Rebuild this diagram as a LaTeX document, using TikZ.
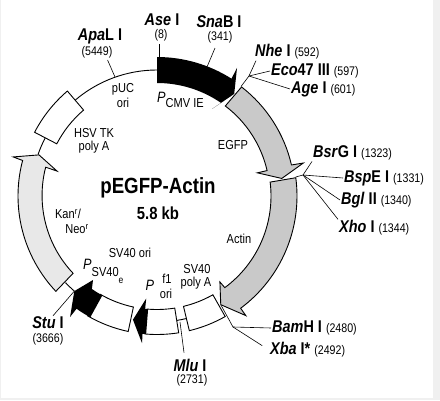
\documentclass[tikz,border=0pt]{standalone}
\usepackage{fontspec}
\setmainfont{Liberation Sans}[FakeStretch=0.85]
\newcommand{\sitepos}[1]{{\fontsize{12.5}{13}\selectfont\mdseries (#1)}}
\tikzset{
  ringline/.style={line width=0.9pt},
  ringblock/.style={ringline, draw=black, fill=white},
  tick/.style={line width=0.6pt},
  sitename/.style={font=\fontsize{17}{18}\selectfont\bfseries, inner sep=1pt},
  sitenum/.style={font=\fontsize{12.5}{13}\selectfont, inner sep=1pt},
  feature/.style={font=\fontsize{13}{14}\selectfont, inner sep=0pt}
}
\begin{document}
\begin{tikzpicture}[x=1pt, y=1pt]

  % --- 1. page ---
  \useasboundingbox (0,0) rectangle (440,400);
  \fill[gray!12] (0,0) rectangle (440,400);
  \fill[white] (1,2) rectangle (433,400);

  % --- 2. ring, angles measured at the centre ---
  \begin{scope}[shift={(157,204)}]
    \draw[ringline] (90:126) arc (90:130.5:126);
    \draw[ringline] (152.5:126) arc (152.5:160.8:126);
    \draw[ringline] (-131:126) arc (-131:-136.6:126);
    \draw[ringline] (-76.5:126) arc (-76.5:-81:126);

    % HSV TK poly A, SV40 poly A, f1 ori, SV40 ori
    \draw[ringblock] (130.5:138) arc (130.5:152.5:138) -- (152.5:113) arc (152.5:130.5:113) -- cycle;
    \draw[ringblock] (-60.5:138.5) arc (-60.5:-76.5:138.5) -- (-76.5:113.5) arc (-76.5:-60.5:113.5) -- cycle;
    \draw[ringblock] (-81:138.5) arc (-81:-95:138.5) -- (-95:113.5) arc (-95:-81:113.5) -- cycle;
    \draw[ringblock] (-102:138.5) arc (-102:-120:138.5) -- (-120:113.5) arc (-120:-102:113.5) -- cycle;
    \draw[ringline] (-95:126) arc (-95:-100:126);

    % P CMV IE
    \fill[black] (90:139) arc (90:57.6:139) -- (58:151) -- (52.9:128) -- (57.7:103) -- (55.5:113) arc (55.5:90:113) -- cycle;
    % P f1 and P SV40e
    \fill[black] (-94.5:138.5) arc (-94.5:-96:138.5) -- (-95.8:148) -- (-101:126) -- (-96:103) -- (-96:113.5) arc (-96:-94.5:113.5) -- cycle;
    \fill[black] (-118.8:138.5) arc (-118.8:-125.5:138.5) -- (-125.7:149) -- (-131:126) -- (-127.3:105.6) -- (-125:113.5) arc (-125:-118.8:113.5) -- cycle;

    % EGFP and Actin
    \draw[ringline, fill=gray!42] (52.2:138) arc (52.2:13:138) -- (12.7:150) -- (8:126) -- (13:103) -- (13:113) arc (13:52.8:113) -- cycle;
    \draw[ringline, fill=gray!42] (7.5:140) arc (7.5:-53.3:140) -- (-53.4:149) -- (-59.6:126) -- (-53.8:106.5) -- (-53.5:114) arc (-53.5:7:114) -- cycle;

    % Kan/Neo
    \draw[ringline, fill=gray!18] (-136.7:139) arc (-136.7:-194.8:139) -- (-195.2:149) -- (-199.2:125) -- (-194:103) -- (-194.5:115) arc (-194.5:-136.5:113) -- cycle;

    % cut sites on the ring
    \coordinate (nhesite) at (52.5:138);
    \coordinate (bspsite) at (7.8:140);
    \coordinate (xbasite) at (-59.6:126);
    \coordinate (stusite) at (-131:126);
  \end{scope}

  % --- 3. title ---
  \node[font=\fontsize{22}{23}\selectfont\bfseries, inner sep=0pt] (title) at (158,212) {pEGFP-Actin};
  \node[font=\fontsize{17.5}{18}\selectfont\bfseries, inner sep=0pt] (size) at (158,187) {5.8 kb};

  % --- 4. features ---
  \node[feature] (puc) at (123,311) {pUC};
  \node[feature] (pucori) at (123,297) {ori};
  \node[feature, anchor=base west] (pcmv) at (157,297) {{\fontsize{15}{15}\selectfont\itshape P}\raisebox{-5pt}{CMV IE}};
  \node[feature] (hsv) at (94,267) {HSV TK};
  \node[feature] (hsvpoly) at (94,253) {poly A};
  \node[feature] (egfp) at (233,255) {EGFP};
  \node[feature] (kan) at (68,186) {Kan\textsuperscript{r}/};
  \node[feature] (neo) at (77,171) {Neo\textsuperscript{r}};
  \node[feature] (actin) at (239,161) {Actin};
  \node[feature] (svori) at (130,147) {SV40 ori};
  \node[feature, anchor=base west] (psv) at (83,131) {{\fontsize{15}{15}\selectfont\itshape P}\raisebox{-7pt}{SV40}\raisebox{-14pt}{\fontsize{10}{10}\selectfont e}};
  \node[feature, anchor=base] (pf) at (150,110) {{\fontsize{15}{15}\selectfont\itshape P}};
  \node[feature] (fone) at (167,121) {f1};
  \node[feature] (foneori) at (166,106) {ori};
  \node[feature] (svpoly) at (197,131) {SV40};
  \node[feature] (svpolya) at (196,117) {poly A};

  % --- 5. sites ---
  \node[sitename] (apaname) at (100,364) {\textit{Apa}L I};
  \node[sitenum] (apanum) at (97,348) {(5449)};
  \node[sitename] (asename) at (162,380) {\textit{Ase} I};
  \node[sitenum] (asenum) at (161,365) {(8)};
  \node[sitename] (snaname) at (219,378) {\textit{Sna}B I};
  \node[sitenum] (snanum) at (220,363) {(341)};
  \node[sitename, anchor=west] (nhe) at (254,348) {\textit{Nhe} I \sitepos{592}};
  \node[sitename, anchor=west] (eco) at (270,329) {\textit{Eco}47 III \sitepos{597}};
  \node[sitename, anchor=west] (age) at (290,311) {\textit{Age} I \sitepos{601}};
  \node[sitename, anchor=west] (bsr) at (312,247) {\textit{Bsr}G I \sitepos{1323}};
  \node[sitename, anchor=west] (bsp) at (343,222) {\textit{Bsp}E I \sitepos{1331}};
  \node[sitename, anchor=west] (bgl) at (340,200) {\textit{Bgl} II \sitepos{1340}};
  \node[sitename, anchor=west] (xho) at (338,172) {\textit{Xho} I \sitepos{1344}};
  \node[sitename, anchor=west] (bam) at (271,72) {\textit{Bam}H I \sitepos{2480}};
  \node[sitename, anchor=west] (xba) at (269,50) {\textit{Xba} I* \sitepos{2492}};
  \node[sitename] (mluname) at (190,35) {\textit{Mlu} I};
  \node[sitenum] (mlunum) at (192,20) {(2731)};
  \node[sitename] (stuname) at (48,77) {\textit{Stu} I};
  \node[sitenum] (stunum) at (48,61) {(3666)};

  % --- 6. tick lines ---
  \coordinate (nhefork) at (249,324);
  \coordinate (bspfork) at (303,225);
  \coordinate (xbafork) at (233,73);
  \draw[tick] (apanum.south east) ++(-6,-1) -- (115,323);
  \draw[tick] (asenum.south) ++(-1.5,-2) -- (159.5,343);
  \draw[tick] (snanum.south) ++(-5,-4) -- (207,333);
  \draw[tick] (nhesite) -- (nhefork);
  \draw[tick] (nhefork) -- ([xshift=2pt]nhe.south west);
  \draw[tick] (nhefork) -- (eco.west);
  \draw[tick] (nhefork) -- (age.west);
  \draw[tick] (bspsite) -- (bspfork);
  \draw[tick] (bspfork) -- (bsr.south west);
  \draw[tick] (bspfork) -- (bsp.west);
  \draw[tick] (bspfork) -- (bgl.west);
  \draw[tick] (bspfork) -- (xho.north west);
  \draw[tick] (xbasite) -- (xbafork);
  \draw[tick] (xbafork) -- (bam.west);
  \draw[tick, shorten >=8pt] (xbafork) -- (xba.west);
  \draw[tick] (mluname.north) ++(-6,5) -- (180,78);
  \draw[tick] (stusite) -- ([xshift=5pt]stuname.north);

\end{tikzpicture}
\end{document}
